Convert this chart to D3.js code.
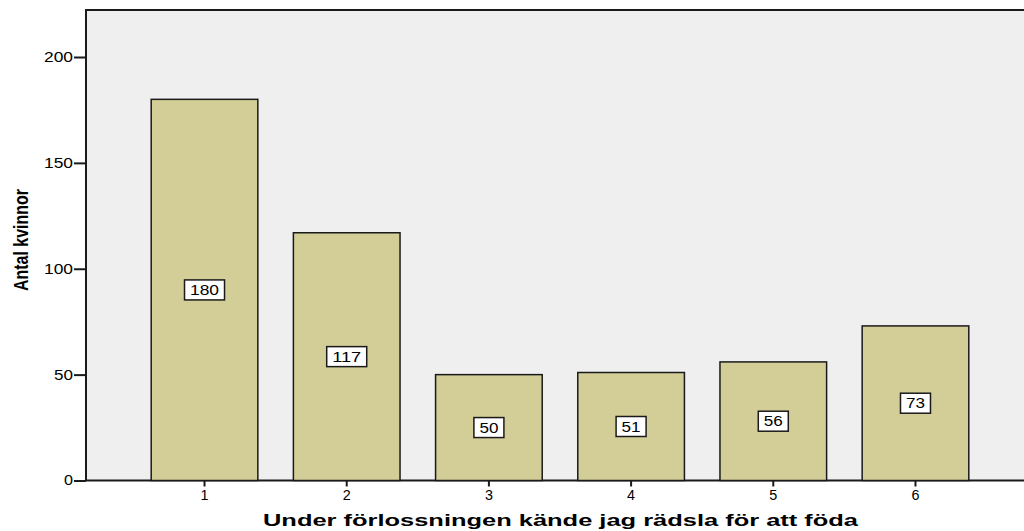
<!DOCTYPE html>
<html>
<head>
<meta charset="utf-8">
<script src="https://cdn.jsdelivr.net/npm/d3@7"></script>
<style>
  body { margin: 0; background: #fff; }
  svg text { font-family: Arial, "Liberation Sans", sans-serif; }
</style>
</head>
<body>
<div id="chart"></div>
<script>
let CHART_WIDTH = 1024;
let CHART_HEIGHT = 531;

var categories = ["1", "2", "3", "4", "5", "6"];
var counts = [180, 117, 50, 51, 56, 73];
var yTicks = [0, 50, 100, 150, 200];
var xTitle = "Under förlossningen kände jag rädsla för att föda";
var yTitle = "Antal kvinnor";

var plotLeft = 86, plotTop = 10, plotBottom = 480.5;
var digitW = 10; // the source stretches its digits sideways

var svg = d3.select("#chart").append("svg")
	.attr("width", CHART_WIDTH)
	.attr("height", CHART_HEIGHT);

var x = d3.scaleBand()
	.domain(categories)
	.range([plotLeft, 1034])
	.paddingInner(0.25)
	.paddingOuter(0.4585);

var y = d3.scaleLinear().domain([0, 200]).range([plotBottom, 57]);

// plot background
svg.append("rect")
	.attr("x", plotLeft).attr("y", plotTop)
	.attr("width", 1100).attr("height", plotBottom - plotTop)
	.attr("fill", "#efefef")
	.attr("stroke", "#1a1a1a")
	.attr("stroke-width", 2);

// bars
svg.selectAll(".bar")
	.data(counts)
	.enter().append("rect")
	.attr("class", "bar")
	.attr("x", (d, i) => x(categories[i]))
	.attr("y", d => y(d))
	.attr("width", x.bandwidth())
	.attr("height", d => y(0) - y(d))
	.attr("fill", "#d3ce98")
	.attr("stroke", "#1a1a1a")
	.attr("stroke-width", 1.5);

// value labels
var lab = svg.selectAll(".lab")
	.data(counts)
	.enter().append("g")
	.attr("class", "lab")
	.attr("transform", (d, i) => "translate(" + (x(categories[i]) + x.bandwidth() / 2) + "," + y(d / 2) + ")");

lab.append("rect")
	.attr("x", d => -(String(d).length * digitW + 10) / 2)
	.attr("y", -10)
	.attr("width", d => String(d).length * digitW + 10)
	.attr("height", 20)
	.attr("fill", "#fff")
	.attr("stroke", "#1a1a1a")
	.attr("stroke-width", 1.5);

lab.append("text")
	.attr("text-anchor", "middle")
	.attr("dy", "0.36em")
	.attr("textLength", d => String(d).length * digitW - 1)
	.attr("lengthAdjust", "spacingAndGlyphs")
	.style("font-size", "14px")
	.attr("fill", "#000")
	.text(d => d);

// axes
var yAxis = svg.append("g")
	.attr("transform", "translate(" + plotLeft + ",0)")
	.call(d3.axisLeft(y).tickValues(yTicks).tickSize(12).tickPadding(1));
yAxis.select(".domain").remove();
yAxis.selectAll("line").attr("stroke", "#1a1a1a").attr("stroke-width", 2);
yAxis.selectAll("text")
	.style("font-size", "14px").attr("fill", "#000")
	.style("font-family", "Arial, 'Liberation Sans', sans-serif")
	.attr("textLength", d => String(d).length * digitW - 1)
	.attr("lengthAdjust", "spacingAndGlyphs");

var xAxis = svg.append("g")
	.attr("transform", "translate(0," + plotBottom + ")")
	.call(d3.axisBottom(x).tickSize(6).tickPadding(4));
xAxis.select(".domain").remove();
xAxis.selectAll("line").attr("stroke", "#1a1a1a").attr("stroke-width", 2);
xAxis.selectAll("text")
	.style("font-size", "14px").attr("fill", "#000")
	.style("font-family", "Arial, 'Liberation Sans', sans-serif")
	.attr("textLength", d => String(d).length * digitW - 2)
	.attr("lengthAdjust", "spacingAndGlyphs");

// titles
svg.append("text")
	.attr("x", 560.5).attr("y", 526)
	.attr("text-anchor", "middle")
	.attr("textLength", 595)
	.attr("lengthAdjust", "spacingAndGlyphs")
	.style("font-size", "17px")
	.style("font-weight", "bold")
	.attr("fill", "#000")
	.text(xTitle);

svg.append("text")
	.attr("transform", "translate(28,240) rotate(-90)")
	.attr("text-anchor", "middle")
	.attr("textLength", 102)
	.attr("lengthAdjust", "spacingAndGlyphs")
	.style("font-size", "20px")
	.style("font-weight", "bold")
	.attr("fill", "#000")
	.text(yTitle);
</script>
</body>
</html>
